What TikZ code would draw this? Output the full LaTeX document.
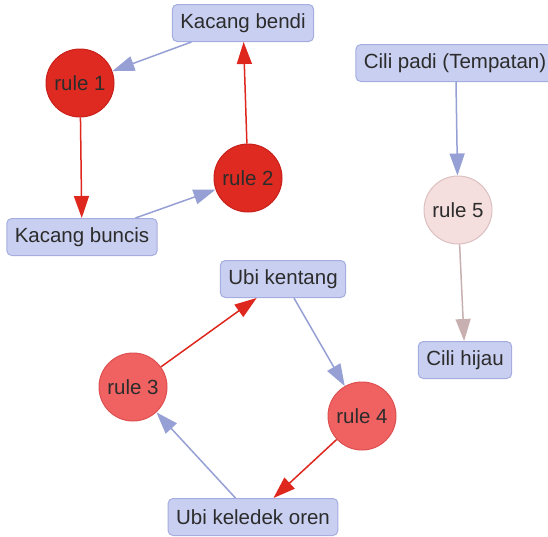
\documentclass[tikz,border=0pt]{standalone}
\usepackage{fontspec}
\setmainfont{Liberation Sans}
\usetikzlibrary{arrows.meta}

\definecolor{itemfill}{RGB}{201,207,240}
\definecolor{itemline}{RGB}{165,173,224}
\definecolor{hotfill}{RGB}{222,42,32}
\definecolor{hotline}{RGB}{200,32,26}
\definecolor{warmfill}{RGB}{240,98,98}
\definecolor{warmline}{RGB}{222,80,80}
\definecolor{palefill}{RGB}{245,222,222}
\definecolor{paleline}{RGB}{220,192,192}
\definecolor{inedge}{RGB}{150,160,212}
\definecolor{outedge}{RGB}{222,40,30}
\definecolor{paleedge}{RGB}{200,176,176}
\definecolor{labeltext}{RGB}{44,44,44}

\tikzset{
  item/.style={draw=itemline, fill=itemfill, rounded corners=5pt, line width=1pt,
    inner xsep=8pt, minimum height=37pt, text=labeltext,
    font=\fontsize{20.5}{24}\selectfont},
  rulenode/.style={circle, minimum size=68pt, inner sep=0pt, line width=1pt,
    text=labeltext, font=\fontsize{20.5}{24}\selectfont},
  hot/.style={rulenode, fill=hotfill, draw=hotline},
  warm/.style={rulenode, fill=warmfill, draw=warmline},
  pale/.style={rulenode, fill=palefill, draw=paleline},
  link/.style={line width=1.5pt, -{Triangle[length=22pt,width=15pt]}},
  inlink/.style={link, draw=inedge, fill=inedge},
  outlink/.style={link, draw=outedge, fill=outedge},
  palelink/.style={link, draw=paleedge, fill=paleedge},
}

\begin{document}
\begin{tikzpicture}[x=1pt, y=-1pt]
  \useasboundingbox (0,0) rectangle (548,536);
  \clip (0,0) rectangle (548,536);

  % first cycle
  \node[item] (bendi) at (243,23) {Kacang bendi};
  \node[hot] (r1) at (80,83) {rule 1};
  \node[hot] (r2) at (248,178) {rule 2};
  \node[item] (buncis) at (82,237) {Kacang buncis};

  % chilli chain
  \node[item] (padi) at (455,63) {Cili padi (Tempatan)};
  \node[pale] (r5) at (458,210) {rule 5};
  \node[item] (hijau) at (465,360) {Cili hijau};

  % second cycle
  \node[item] (kentang) at (283,279) {Ubi kentang};
  \node[warm] (r3) at (133,387) {rule 3};
  \node[warm] (r4) at (362,416) {rule 4};
  \node[item] (keledek) at (253,517) {Ubi keledek oren};

  \draw[inlink] (bendi) -- (r1);
  \draw[outlink] (r1) -- (buncis);
  \draw[inlink] (buncis) -- (r2);
  \draw[outlink] (r2) -- (bendi);

  \draw[inlink] (padi.south -| 456,0) -- (r5);
  \draw[palelink] (r5) -- (hijau);

  \draw[inlink] (kentang) -- (r4);
  \draw[outlink] (r4) -- (keledek);
  \draw[inlink] (keledek) -- (r3);
  \draw[outlink] (r3) -- (kentang);
\end{tikzpicture}
\end{document}
